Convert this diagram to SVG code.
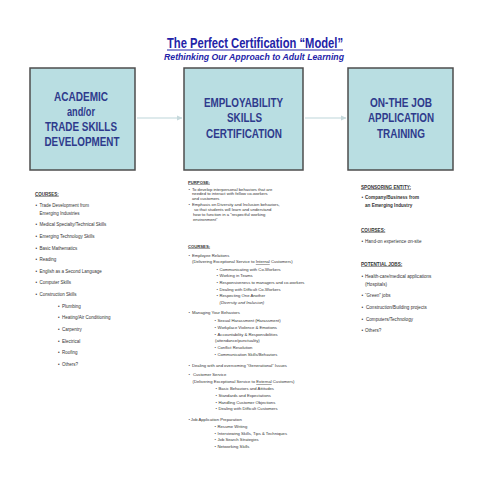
<svg xmlns="http://www.w3.org/2000/svg" width="495" height="495" viewBox="0 0 495 495">
<style>
.box{fill:#b9dee2;stroke:#4d4d4d;stroke-width:1.5}
.bt{font-family:"Liberation Sans",Arial,sans-serif;font-weight:bold;font-size:12px;fill:#2e3a8c;text-anchor:middle}
.t{font-family:"Liberation Sans",Arial,sans-serif;fill:#333333}
.l{font-size:4.5px}
.m{font-size:4.2px}
.r{font-size:4.6px}
.h{font-weight:bold;text-decoration:underline}
.i{font-style:italic}
.u{text-decoration:underline}
.conn{stroke:#d3e3e6;stroke-width:1.5;fill:none}
</style>
<defs>
<marker id="ah" viewBox="0 0 6 6" refX="5" refY="3" markerWidth="4" markerHeight="4" orient="auto">
<path d="M0,0.5 L5.5,3 L0,5.5 z" fill="#c6d9dc"/>
</marker>
</defs>
<rect width="495" height="495" fill="#ffffff"/>
<g id="title">
<text x="255" y="47.5" font-family="'Liberation Sans',Arial,sans-serif" font-weight="bold" font-size="14" fill="#2323a8" text-anchor="middle" textLength="176" lengthAdjust="spacingAndGlyphs">The Perfect Certification “Model”</text>
<line x1="167" y1="50" x2="343" y2="50" stroke="#2323a8" stroke-width="1"/>
<text x="254" y="60" font-family="'Liberation Sans',Arial,sans-serif" font-weight="bold" font-style="italic" font-size="9.3" fill="#2323a8" text-anchor="middle" textLength="180" lengthAdjust="spacingAndGlyphs">Rethinking Our Approach to Adult Learning</text>
</g>
<g id="connectors">
<line class="conn" x1="137" y1="118" x2="182" y2="118" marker-end="url(#ah)"/>
<line class="conn" x1="305" y1="118" x2="346" y2="118" marker-end="url(#ah)"/>
</g>
<g id="node-academic">
<rect class="box" x="30" y="68" width="105" height="102"/>
<text class="bt" x="81" y="100.5" textLength="54" lengthAdjust="spacingAndGlyphs">ACADEMIC</text>
<text class="bt" x="81" y="115.5" textLength="28" lengthAdjust="spacingAndGlyphs">and/or</text>
<text class="bt" x="81" y="130.5" textLength="72" lengthAdjust="spacingAndGlyphs">TRADE SKILLS</text>
<text class="bt" x="82" y="145.5" textLength="75" lengthAdjust="spacingAndGlyphs">DEVELOPMENT</text>
</g>
<g id="node-employability">
<rect class="box" x="184" y="68" width="119" height="102"/>
<text class="bt" x="243.5" y="107" textLength="79" lengthAdjust="spacingAndGlyphs">EMPLOYABILITY</text>
<text class="bt" x="244.5" y="122" textLength="35" lengthAdjust="spacingAndGlyphs">SKILLS</text>
<text class="bt" x="244" y="138" textLength="76" lengthAdjust="spacingAndGlyphs">CERTIFICATION</text>
</g>
<g id="node-onthejob">
<rect class="box" x="348" y="68" width="105" height="102"/>
<text class="bt" x="401" y="107" textLength="62" lengthAdjust="spacingAndGlyphs">ON-THE JOB</text>
<text class="bt" x="401" y="122" textLength="66" lengthAdjust="spacingAndGlyphs">APPLICATION</text>
<text class="bt" x="401" y="138" textLength="48" lengthAdjust="spacingAndGlyphs">TRAINING</text>
</g>
<g id="col-left" class="t l">
<text class="h" x="35" y="195.5">COURSES:</text>
<text x="35.5" y="206.5">•</text><text x="39.5" y="206.5">Trade Development from</text>
<text x="39.5" y="214.5">Emerging Industries</text>
<text x="35.5" y="225.5">•</text><text x="39.5" y="225.5">Medical Specialty/Technical Skills</text>
<text x="35.5" y="237.5">•</text><text x="39.5" y="237.5">Emerging Technology Skills</text>
<text x="35.5" y="249.5">•</text><text x="39.5" y="249.5">Basic Mathematics</text>
<text x="35.5" y="260.5">•</text><text x="39.5" y="260.5">Reading</text>
<text x="35.5" y="272.5">•</text><text x="39.5" y="272.5">English as a Second Language</text>
<text x="35.5" y="283.5">•</text><text x="39.5" y="283.5">Computer Skills</text>
<text x="35.5" y="295.5">•</text><text x="39.5" y="295.5">Construction Skills</text>
<text x="58" y="307.5">•</text><text x="62" y="307.5">Plumbing</text>
<text x="58" y="318.5">•</text><text x="62" y="318.5">Heating/Air Conditioning</text>
<text x="58" y="330.5">•</text><text x="62" y="330.5">Carpentry</text>
<text x="58" y="342.5">•</text><text x="62" y="342.5">Electrical</text>
<text x="58" y="353.5">•</text><text x="62" y="353.5">Roofing</text>
<text x="58" y="365.5">•</text><text x="62" y="365.5">Others?</text>
</g>
<g id="col-middle" class="t m">
<text class="h" x="188" y="183.5">PURPOSE:</text>
<text x="188.5" y="190.5">•</text><text x="192" y="190.5">To develop interpersonal behaviors that are</text>
<text x="192" y="195">needed  to interact with fellow co-workers</text>
<text x="192" y="199.7">and customers</text>
<text x="188.5" y="206">•</text><text x="192" y="206">Emphasis on Diversity and Inclusion behaviors,</text>
<text x="194" y="211">so that students will learn and understand</text>
<text x="193" y="215.6">how to function in a “respectful working</text>
<text x="193" y="220.5">environment”</text>
<text class="h" x="188" y="247.5">COURSES:</text>
<text x="188.5" y="257.3">•</text><text x="192" y="257.3">Employee Relations</text>
<text x="192" y="263.4">(Delivering Exceptional Service to <tspan class="u">Internal</tspan> Customers)</text>
<text x="216.5" y="271">•</text><text x="219.5" y="271">Communicating with Co-Workers</text>
<text x="216.5" y="277.3">•</text><text x="219.5" y="277.3">Working in Teams</text>
<text x="216.5" y="283.6">•</text><text x="219.5" y="283.6">Responsiveness  to managers and co-workers</text>
<text x="216.5" y="290.6">•</text><text x="219.5" y="290.6">Dealing with Difficult Co-Workers</text>
<text x="216.5" y="297">•</text><text x="219.5" y="297">Respecting One Another</text>
<text class="i" x="219.5" y="304">(Diversity and Inclusion)</text>
<text x="188.5" y="314.3">•</text><text x="192" y="314.3">Managing Your Behaviors</text>
<text x="214.5" y="322.3">•</text><text x="217.5" y="322.3">Sexual Harassment (Harassment)</text>
<text x="214.5" y="329.3">•</text><text x="217.5" y="329.3">Workplace Violence &amp; Emotions</text>
<text x="214.5" y="335.5">•</text><text x="217.5" y="335.5">Accountability &amp; Responsibilities</text>
<text x="215" y="342.3">(attendance/punctuality)</text>
<text x="214.5" y="349.3">•</text><text x="217.5" y="349.3">Conflict Resolution</text>
<text x="214.5" y="356.3">•</text><text x="217.5" y="356.3">Communication Skills/Behaviors</text>
<text x="188.5" y="367.3">•</text><text x="192" y="367.3">Dealing with and overcoming “Generational” Issues</text>
<text x="188.5" y="376.3">•</text><text x="193" y="376.3">Customer Service</text>
<text x="192.5" y="383.3">(Delivering Exceptional Service to <tspan class="u">External</tspan> Customers)</text>
<text x="215.5" y="390.3">•</text><text x="218.5" y="390.3">Basic Behaviors and Attitudes</text>
<text x="215.5" y="396.8">•</text><text x="218.5" y="396.8">Standards and Expectations</text>
<text x="215.5" y="403.5">•</text><text x="218.5" y="403.5">Handling Customer Objections</text>
<text x="215.5" y="410.3">•</text><text x="218.5" y="410.3">Dealing with Difficult Customers</text>
<text x="188.5" y="420.5">•</text><text x="190.8" y="420.5">Job Application Preparation</text>
<text x="214.5" y="427.5">•</text><text x="217.5" y="427.5">Resume Writing</text>
<text x="214.5" y="434.5">•</text><text x="217.5" y="434.5">Interviewing Skills, Tips &amp; Techniques</text>
<text x="214.5" y="441.3">•</text><text x="217.5" y="441.3">Job Search Strategies</text>
<text x="214.5" y="448">•</text><text x="217.5" y="448">Networking Skills</text>
</g>
<g id="col-right" class="t r">
<text class="h" x="361" y="188.5">SPONSORING ENTITY:</text>
<text x="361.5" y="198.5">•</text><text x="365" y="198.5" font-weight="bold">Company/Business from</text>
<text x="365" y="206.5" font-weight="bold">an Emerging Industry</text>
<text class="h" x="361" y="231.5">COURSES:</text>
<text x="361.5" y="242.5">•</text><text x="365" y="242.5">Hand-on experience on-site</text>
<text class="h" x="361" y="265.5">POTENTIAL JOBS:</text>
<text x="361.5" y="277.5">•</text><text x="365" y="277.5">Health-care/medical applications</text>
<text x="365" y="285.5">(Hospitals)</text>
<text x="361.5" y="296.5">•</text><text x="365" y="296.5">“Green” jobs</text>
<text x="361.5" y="308.5">•</text><text x="366" y="308.5">Construction/Building projects</text>
<text x="361.5" y="320.5">•</text><text x="366" y="320.5">Computers/Technology</text>
<text x="361.5" y="331.5">•</text><text x="365" y="331.5">Others?</text>
</g>
</svg>
